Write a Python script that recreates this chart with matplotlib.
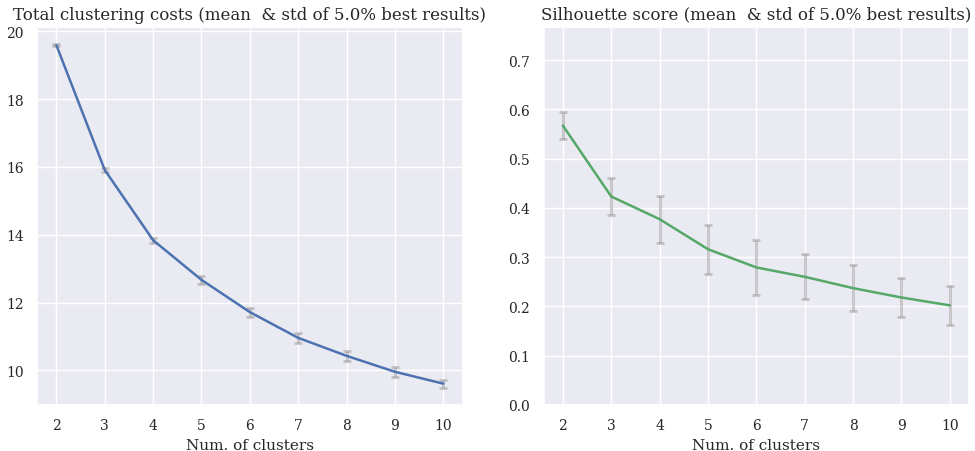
import matplotlib
matplotlib.use("Agg")
import matplotlib.pyplot as plt
import seaborn as sns

n_clusters = [2, 3, 4, 5, 6, 7, 8, 9, 10]
cost_mean = [19.59, 15.91, 13.84, 12.67, 11.72, 10.96, 10.43, 9.96, 9.61]
cost_std = [0.03, 0.06, 0.07, 0.12, 0.13, 0.15, 0.15, 0.15, 0.12]
sil_mean = [0.567, 0.423, 0.377, 0.316, 0.279, 0.260, 0.237, 0.218, 0.202]
sil_std = [0.028, 0.037, 0.048, 0.050, 0.055, 0.046, 0.046, 0.040, 0.040]

sns.set_theme(style="darkgrid")
plt.rcParams['font.family'] = ['DejaVu Serif']

fig, axes = plt.subplots(1, 2, figsize=(9.75, 4.52), dpi=100)
fig.subplots_adjust(left=0.038, right=0.994, top=0.938, bottom=0.102, wspace=0.19)

ax = axes[0]
ax.errorbar(n_clusters, cost_mean, yerr=cost_std, fmt='none', ecolor='gray',
            alpha=0.4, elinewidth=2, capsize=3, capthick=2)
ax.plot(n_clusters, cost_mean, color='#4c72b0', lw=1.8)
ax.set_title('Total clustering costs (mean  & std of 5.0% best results)', fontsize=12)
ax.set_xlabel('Num. of clusters', fontsize=11)
ax.set_xticks(n_clusters)
ax.tick_params(labelsize=10)

ax = axes[1]
ax.errorbar(n_clusters, sil_mean, yerr=sil_std, fmt='none', ecolor='gray',
            alpha=0.4, elinewidth=2, capsize=3, capthick=2)
ax.plot(n_clusters, sil_mean, color='#55a868', lw=1.8)
ax.set_title('Silhouette score (mean  & std of 5.0% best results)', fontsize=12)
ax.set_xlabel('Num. of clusters', fontsize=11)
ax.set_xticks(n_clusters)
ax.set_ylim(0, 0.767)
ax.tick_params(labelsize=10)

fig.savefig('out.png', dpi=100)
